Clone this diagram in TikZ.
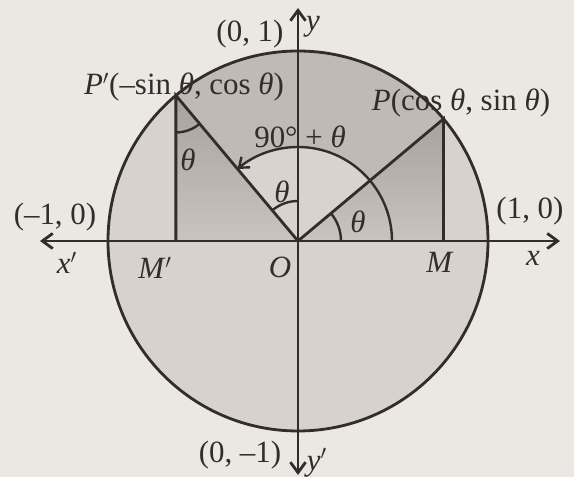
\documentclass[tikz,border=0pt]{standalone}
\usepackage{fontspec}
\setmainfont{Liberation Serif}
\usetikzlibrary{arrows.meta,positioning,calc}
\definecolor{paper}{RGB}{235,231,226}
\definecolor{disklight}{RGB}{216,210,205}
\definecolor{sectormid}{RGB}{192,186,181}
\definecolor{innerlight}{RGB}{216,211,206}
\definecolor{tridark}{RGB}{168,162,158}
\definecolor{ink}{RGB}{50,45,44}
\newcommand{\tht}{\textit{θ}}

\begin{document}
\begin{tikzpicture}[x=0.025cm, y=0.025cm,
    line/.style={draw=ink, line width=2pt},
    axis/.style={line, {Straight Barb[length=2.6mm,width=3.8mm]}-{Straight Barb[length=2.6mm,width=3.8mm]}},
    angarc/.style={draw=ink, line width=1.7pt},
    lbl/.style={font=\fontsize{22}{25}\selectfont, text=ink, inner sep=1pt}
]
\useasboundingbox[fill=paper] (-298,-236) rectangle (276,241);

% Points
\coordinate (O) at (0,0);
\coordinate (P) at (40:190);
\coordinate (Pp) at (130:190);
\coordinate (M) at (P |- O);
\coordinate (Mp) at (Pp |- O);
\coordinate (xl) at (-258,0);
\coordinate (xr) at (262,0);
\coordinate (yb) at (0,-234);
\coordinate (yt) at (0,233);

% Shading
\fill[disklight] (O) circle[radius=190];
\fill[sectormid] (O) -- (P) arc[start angle=40, end angle=130, radius=190] -- cycle;
\shade[top color=tridark, bottom color=sectormid!60!disklight] (O) -- (M) -- (P) -- cycle;
\shade[top color=tridark, bottom color=sectormid!60!disklight] (O) -- (Mp) -- (Pp) -- cycle;
\fill[innerlight] (O) -- (40:94) arc[start angle=40, end angle=130, radius=94] -- cycle;

% Circle and axes
\draw[line] (O) circle[radius=190];
\draw[axis] (xl) -- (xr);
\draw[axis] (yb) -- (yt);

% Radii and perpendiculars
\draw[line] (O) -- (P) -- (M);
\draw[line] (O) -- (Pp) -- (Mp);

% Angles
\draw[angarc, -{Straight Barb[length=2.2mm,width=3.4mm]}] (O) ++(0:94) arc[start angle=0, end angle=130, radius=94];
\draw[angarc] (O) ++(0:43) arc[start angle=0, end angle=40, radius=43];
\draw[angarc] (O) ++(90:40) arc[start angle=90, end angle=130, radius=40];
\draw[angarc] (Pp) ++(270:37) arc[start angle=270, end angle=310, radius=37];

% Point labels
\node[lbl] (lP) at (163,138) {\textit{P}(cos \tht, sin \tht)};
\node[lbl] (lPp) at (-114,154) {\textit{P}$'$(–sin \tht, cos \tht)};
\node[lbl] (lM) at (142,-21) {\textit{M}};
\node[lbl] (lMp) at (-143,-27) {\textit{M}$'$};
\node[lbl] (lO) at (-18,-26) {\textit{O}};

% Axis labels
\node[lbl] (lx) at (235,-17) {\textit{x}};
\node[lbl] (lxp) at (-231,-22) {\textit{x}$'$};
\node[lbl] (ly) at (15,214) {\textit{y}};
\node[lbl] (lyp) at (19,-222) {\textit{y}$'$};
\node[lbl] (l10) at (232,30) {(1, 0)};
\node[lbl] (lm10) at (-243,24) {(–1, 0)};
\node[lbl] (l01) at (-48,207) {(0, 1)};
\node[lbl] (l0m1) at (-58,-214) {(0, –1)};

% Angle labels
\node[lbl] (a90) at (2,104) {90° + \tht};
\node[lbl] (aO1) at (60,19) {\tht};
\node[lbl] (aO2) at (-16,49) {\tht};
\node[lbl] (aP) at (-110,81) {\tht};

\end{tikzpicture}
\end{document}
